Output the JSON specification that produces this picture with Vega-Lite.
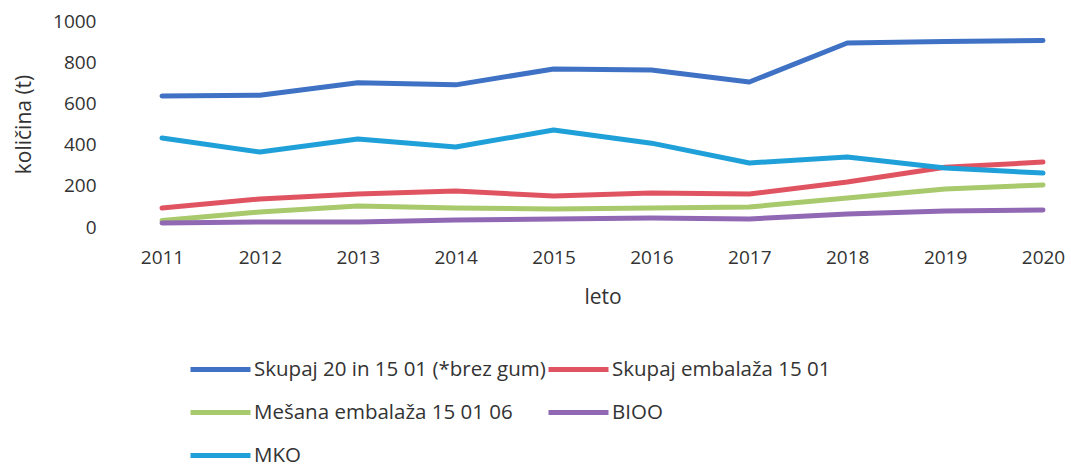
{
  "$schema": "https://vega.github.io/schema/vega-lite/v6.json",
  "width": 881,
  "height": 206,
  "autosize": "none",
  "padding": {"left": 162, "top": 21, "right": 28, "bottom": 239},
  "background": "white",
  "config": {"view": {"stroke": null}, "font": "Open Sans"},
  "data": {"values": [
    {"leto": "2011", "serija": "Skupaj 20 in 15 01 (*brez gum)", "v": 636},
    {"leto": "2012", "serija": "Skupaj 20 in 15 01 (*brez gum)", "v": 640},
    {"leto": "2013", "serija": "Skupaj 20 in 15 01 (*brez gum)", "v": 700},
    {"leto": "2014", "serija": "Skupaj 20 in 15 01 (*brez gum)", "v": 690},
    {"leto": "2015", "serija": "Skupaj 20 in 15 01 (*brez gum)", "v": 767},
    {"leto": "2016", "serija": "Skupaj 20 in 15 01 (*brez gum)", "v": 762},
    {"leto": "2017", "serija": "Skupaj 20 in 15 01 (*brez gum)", "v": 704},
    {"leto": "2018", "serija": "Skupaj 20 in 15 01 (*brez gum)", "v": 893},
    {"leto": "2019", "serija": "Skupaj 20 in 15 01 (*brez gum)", "v": 900},
    {"leto": "2020", "serija": "Skupaj 20 in 15 01 (*brez gum)", "v": 905},
    {"leto": "2011", "serija": "Skupaj embalaža 15 01", "v": 92},
    {"leto": "2012", "serija": "Skupaj embalaža 15 01", "v": 136},
    {"leto": "2013", "serija": "Skupaj embalaža 15 01", "v": 160},
    {"leto": "2014", "serija": "Skupaj embalaža 15 01", "v": 175},
    {"leto": "2015", "serija": "Skupaj embalaža 15 01", "v": 150},
    {"leto": "2016", "serija": "Skupaj embalaža 15 01", "v": 165},
    {"leto": "2017", "serija": "Skupaj embalaža 15 01", "v": 160},
    {"leto": "2018", "serija": "Skupaj embalaža 15 01", "v": 218},
    {"leto": "2019", "serija": "Skupaj embalaža 15 01", "v": 290},
    {"leto": "2020", "serija": "Skupaj embalaža 15 01", "v": 315},
    {"leto": "2011", "serija": "Mešana embalaža 15 01 06", "v": 32},
    {"leto": "2012", "serija": "Mešana embalaža 15 01 06", "v": 73},
    {"leto": "2013", "serija": "Mešana embalaža 15 01 06", "v": 102},
    {"leto": "2014", "serija": "Mešana embalaža 15 01 06", "v": 92},
    {"leto": "2015", "serija": "Mešana embalaža 15 01 06", "v": 87},
    {"leto": "2016", "serija": "Mešana embalaža 15 01 06", "v": 92},
    {"leto": "2017", "serija": "Mešana embalaža 15 01 06", "v": 97},
    {"leto": "2018", "serija": "Mešana embalaža 15 01 06", "v": 141},
    {"leto": "2019", "serija": "Mešana embalaža 15 01 06", "v": 184},
    {"leto": "2020", "serija": "Mešana embalaža 15 01 06", "v": 204},
    {"leto": "2011", "serija": "BIOO", "v": 19},
    {"leto": "2012", "serija": "BIOO", "v": 24},
    {"leto": "2013", "serija": "BIOO", "v": 24},
    {"leto": "2014", "serija": "BIOO", "v": 34},
    {"leto": "2015", "serija": "BIOO", "v": 39},
    {"leto": "2016", "serija": "BIOO", "v": 44},
    {"leto": "2017", "serija": "BIOO", "v": 39},
    {"leto": "2018", "serija": "BIOO", "v": 63},
    {"leto": "2019", "serija": "BIOO", "v": 78},
    {"leto": "2020", "serija": "BIOO", "v": 83},
    {"leto": "2011", "serija": "MKO", "v": 432},
    {"leto": "2012", "serija": "MKO", "v": 364},
    {"leto": "2013", "serija": "MKO", "v": 427},
    {"leto": "2014", "serija": "MKO", "v": 388},
    {"leto": "2015", "serija": "MKO", "v": 471},
    {"leto": "2016", "serija": "MKO", "v": 407},
    {"leto": "2017", "serija": "MKO", "v": 311},
    {"leto": "2018", "serija": "MKO", "v": 340},
    {"leto": "2019", "serija": "MKO", "v": 286},
    {"leto": "2020", "serija": "MKO", "v": 262}
  ]},
  "mark": {"type": "line", "strokeWidth": 5, "strokeCap": "round", "strokeJoin": "round"},
  "encoding": {
    "x": {
      "field": "leto", "type": "ordinal",
      "scale": {"type": "point", "padding": 0},
      "axis": {
        "title": "leto", "labelAngle": 0, "domain": false, "ticks": false, "grid": false,
        "labelFontSize": 19, "labelColor": "#333333", "labelPadding": 21,
        "titleFontSize": 21, "titleFontWeight": "normal", "titleColor": "#333333", "titlePadding": 19
      }
    },
    "y": {
      "field": "v", "type": "quantitative",
      "scale": {"domain": [0, 1000], "nice": false},
      "axis": {
        "title": "količina (t)", "values": [0, 200, 400, 600, 800, 1000], "format": "d",
        "domain": false, "ticks": false, "grid": false,
        "labelFontSize": 19, "labelColor": "#333333", "labelPadding": 66,
        "titleFontSize": 21, "titleFontWeight": "normal", "titleColor": "#333333", "titleX": -128
      }
    },
    "color": {
      "field": "serija", "type": "nominal",
      "scale": {
        "domain": ["Skupaj 20 in 15 01 (*brez gum)", "Skupaj embalaža 15 01", "Mešana embalaža 15 01 06", "BIOO", "MKO"],
        "range": ["#3f72c4", "#e05462", "#a8c96c", "#9168b3", "#1fa0d8"]
      },
      "legend": {
        "title": null, "orient": "none", "legendX": 26, "legendY": 316, "direction": "horizontal", "columns": 2,
        "symbolType": "stroke", "symbolSize": 3600, "symbolStrokeWidth": 5,
        "labelFontSize": 20.5, "labelColor": "#333333", "labelOffset": 1, "columnPadding": -8, "rowPadding": -12,
        "labelLimit": 400
      }
    }
  }
}
